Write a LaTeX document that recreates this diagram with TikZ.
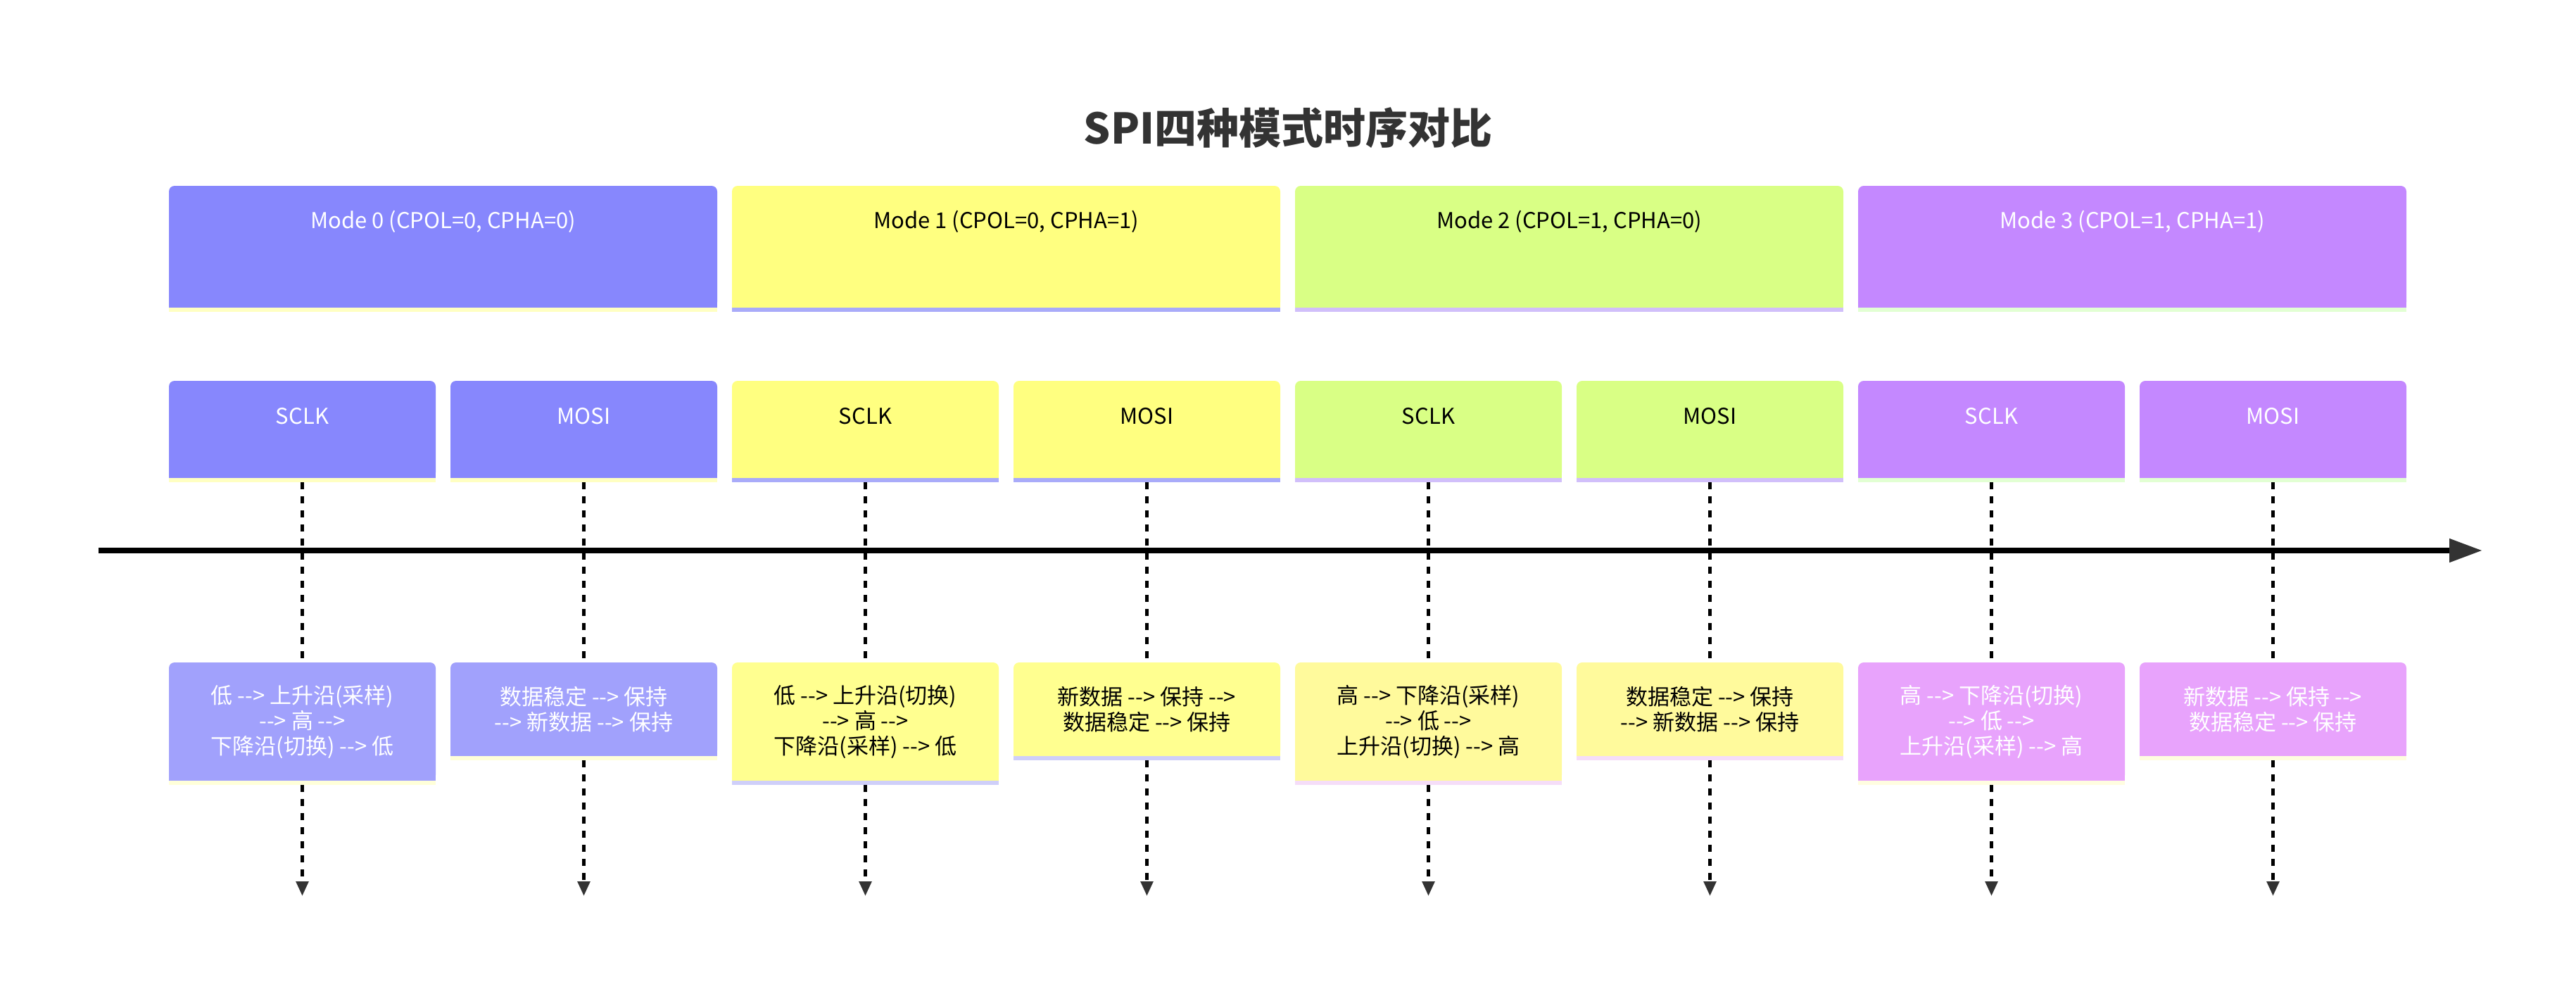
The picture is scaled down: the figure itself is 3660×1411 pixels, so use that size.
\documentclass[tikz,border=0pt]{standalone}
\usepackage{fontspec}
\setmainfont{Noto Sans CJK SC}[Ligatures=TeXOff]
\usetikzlibrary{arrows.meta}
\definecolor{cdark}{HTML}{333333}
\definecolor{mAtop}{HTML}{8787FD}
\definecolor{mAbot}{HTML}{A1A1FC}
\definecolor{mAstT}{HTML}{FFFFC2}
\definecolor{mAstB}{HTML}{FFFFD9}
\definecolor{mBtop}{HTML}{FFFF80}
\definecolor{mBbot}{HTML}{FFFF90}
\definecolor{mBstT}{HTML}{A9ABF9}
\definecolor{mBstB}{HTML}{CFCFF9}
\definecolor{mCtop}{HTML}{D9FF85}
\definecolor{mCbot}{HTML}{FFFA9C}
\definecolor{mCstT}{HTML}{D1BFFA}
\definecolor{mCstB}{HTML}{F5DDF8}
\definecolor{mDtop}{HTML}{C488FF}
\definecolor{mDbot}{HTML}{E8A3FC}
\definecolor{mDstT}{HTML}{E2FFD3}
\definecolor{mDstB}{HTML}{FFFDE0}
\newcommand\boxbase[3]{%
  \fill[#2] ([yshift=12pt]#1.south west) rectangle (#1.south east);
  \fill[#3] (#1.south west) rectangle ([yshift=-6pt]#1.south east);}
\begin{document}
\begin{tikzpicture}[x=1pt,y=-1pt,
  txt/.style={font=\fontsize{31}{36}\selectfont},
  hdr/.style={minimum width=779pt, minimum height=173pt, inner sep=0pt, rounded corners=8pt},
  sig/.style={minimum width=379pt, minimum height=138pt, inner sep=0pt, rounded corners=8pt},
  evs/.style={txt, align=center, minimum width=379pt, minimum height=168pt, inner sep=0pt, rounded corners=8pt},
  evm/.style={txt, align=center, minimum width=379pt, minimum height=133pt, inner sep=0pt, rounded corners=8pt},
  lblh/.style={txt, anchor=center, yshift=-51pt, inner sep=0pt},
  lbls/.style={txt, anchor=center, yshift=-50pt, inner sep=0pt},
  dline/.style={draw=black, line width=5.5pt, dash pattern=on 10pt off 10pt},
  darr/.style={dline, -{Triangle[length=21pt,width=17pt,color=cdark]}},
  tline/.style={draw=black, line width=8pt, -{Triangle[length=47pt,width=32pt,color=cdark]}}
]
\fill[white] (0,0) rectangle (3660,1411);
\useasboundingbox (0,0) rectangle (3660,1411);

\node[font=\fontsize{60}{70}\selectfont\bfseries, text=cdark] (title) at (1830,182) {SPI四种模式时序对比};

% mode headers
\node[hdr, fill=mAtop, label={[lblh, text=white]north:Mode 0 (CPOL=0, CPHA=0)}] (h0) at (629.5,350.5) {};
\node[hdr, fill=mBtop, label={[lblh, text=black]north:Mode 1 (CPOL=0, CPHA=1)}] (h1) at (1429.5,350.5) {};
\node[hdr, fill=mCtop, label={[lblh, text=black]north:Mode 2 (CPOL=1, CPHA=0)}] (h2) at (2229.5,350.5) {};
\node[hdr, fill=mDtop, label={[lblh, text=white]north:Mode 3 (CPOL=1, CPHA=1)}] (h3) at (3029.5,350.5) {};
\boxbase{h0}{mAtop}{mAstT}
\boxbase{h1}{mBtop}{mBstT}
\boxbase{h2}{mCtop}{mCstT}
\boxbase{h3}{mDtop}{mDstT}

% signal boxes
\node[sig, fill=mAtop, label={[lbls, text=white]north:SCLK}] (s0) at (429.5,610) {};
\node[sig, fill=mAtop, label={[lbls, text=white]north:MOSI}] (s1) at (829.5,610) {};
\node[sig, fill=mBtop, label={[lbls, text=black]north:SCLK}] (s2) at (1229.5,610) {};
\node[sig, fill=mBtop, label={[lbls, text=black]north:MOSI}] (s3) at (1629.5,610) {};
\node[sig, fill=mCtop, label={[lbls, text=black]north:SCLK}] (s4) at (2029.5,610) {};
\node[sig, fill=mCtop, label={[lbls, text=black]north:MOSI}] (s5) at (2429.5,610) {};
\node[sig, fill=mDtop, label={[lbls, text=white]north:SCLK}] (s6) at (2829.5,610) {};
\node[sig, fill=mDtop, label={[lbls, text=white]north:MOSI}] (s7) at (3229.5,610) {};
\boxbase{s0}{mAtop}{mAstT}
\boxbase{s1}{mAtop}{mAstT}
\boxbase{s2}{mBtop}{mBstT}
\boxbase{s3}{mBtop}{mBstT}
\boxbase{s4}{mCtop}{mCstT}
\boxbase{s5}{mCtop}{mCstT}
\boxbase{s6}{mDtop}{mDstT}
\boxbase{s7}{mDtop}{mDstT}

% event boxes
\node[evs, fill=mAbot, text=white] (e0) at (429.5,1025) {低 --> 上升沿(采样)\\--> 高 -->\\下降沿(切换) --> 低};
\node[evm, fill=mAbot, text=white] (e1) at (829.5,1007.5) {数据稳定 --> 保持\\--> 新数据 --> 保持};
\node[evs, fill=mBbot, text=black] (e2) at (1229.5,1025) {低 --> 上升沿(切换)\\--> 高 -->\\下降沿(采样) --> 低};
\node[evm, fill=mBbot, text=black] (e3) at (1629.5,1007.5) {新数据 --> 保持 -->\\数据稳定 --> 保持};
\node[evs, fill=mCbot, text=black] (e4) at (2029.5,1025) {高 --> 下降沿(采样)\\--> 低 -->\\上升沿(切换) --> 高};
\node[evm, fill=mCbot, text=black] (e5) at (2429.5,1007.5) {数据稳定 --> 保持\\--> 新数据 --> 保持};
\node[evs, fill=mDbot, text=white] (e6) at (2829.5,1025) {高 --> 下降沿(切换)\\--> 低 -->\\上升沿(采样) --> 高};
\node[evm, fill=mDbot, text=white] (e7) at (3229.5,1007.5) {新数据 --> 保持 -->\\数据稳定 --> 保持};
\boxbase{e0}{mAbot}{mAstB}
\boxbase{e1}{mAbot}{mAstB}
\boxbase{e2}{mBbot}{mBstB}
\boxbase{e3}{mBbot}{mBstB}
\boxbase{e4}{mCbot}{mCstB}
\boxbase{e5}{mCbot}{mCstB}
\boxbase{e6}{mDbot}{mDstB}
\boxbase{e7}{mDbot}{mDstB}

% timeline
\coordinate (tl0) at (140,782);
\coordinate (tl1) at (3527,782);
\draw[tline] (tl0) -- (tl1);

% dashed connectors
\foreach \i/\x in {0/429.5,1/829.5,2/1229.5,3/1629.5,4/2029.5,5/2429.5,6/2829.5,7/3229.5}{
  \coordinate (end\i) at (\x,1273);
  \draw[dline] ([yshift=-6pt]s\i.south) -- (e\i.north);
  \draw[darr] ([yshift=-6pt]e\i.south) -- (end\i);
}
\end{tikzpicture}
\end{document}
